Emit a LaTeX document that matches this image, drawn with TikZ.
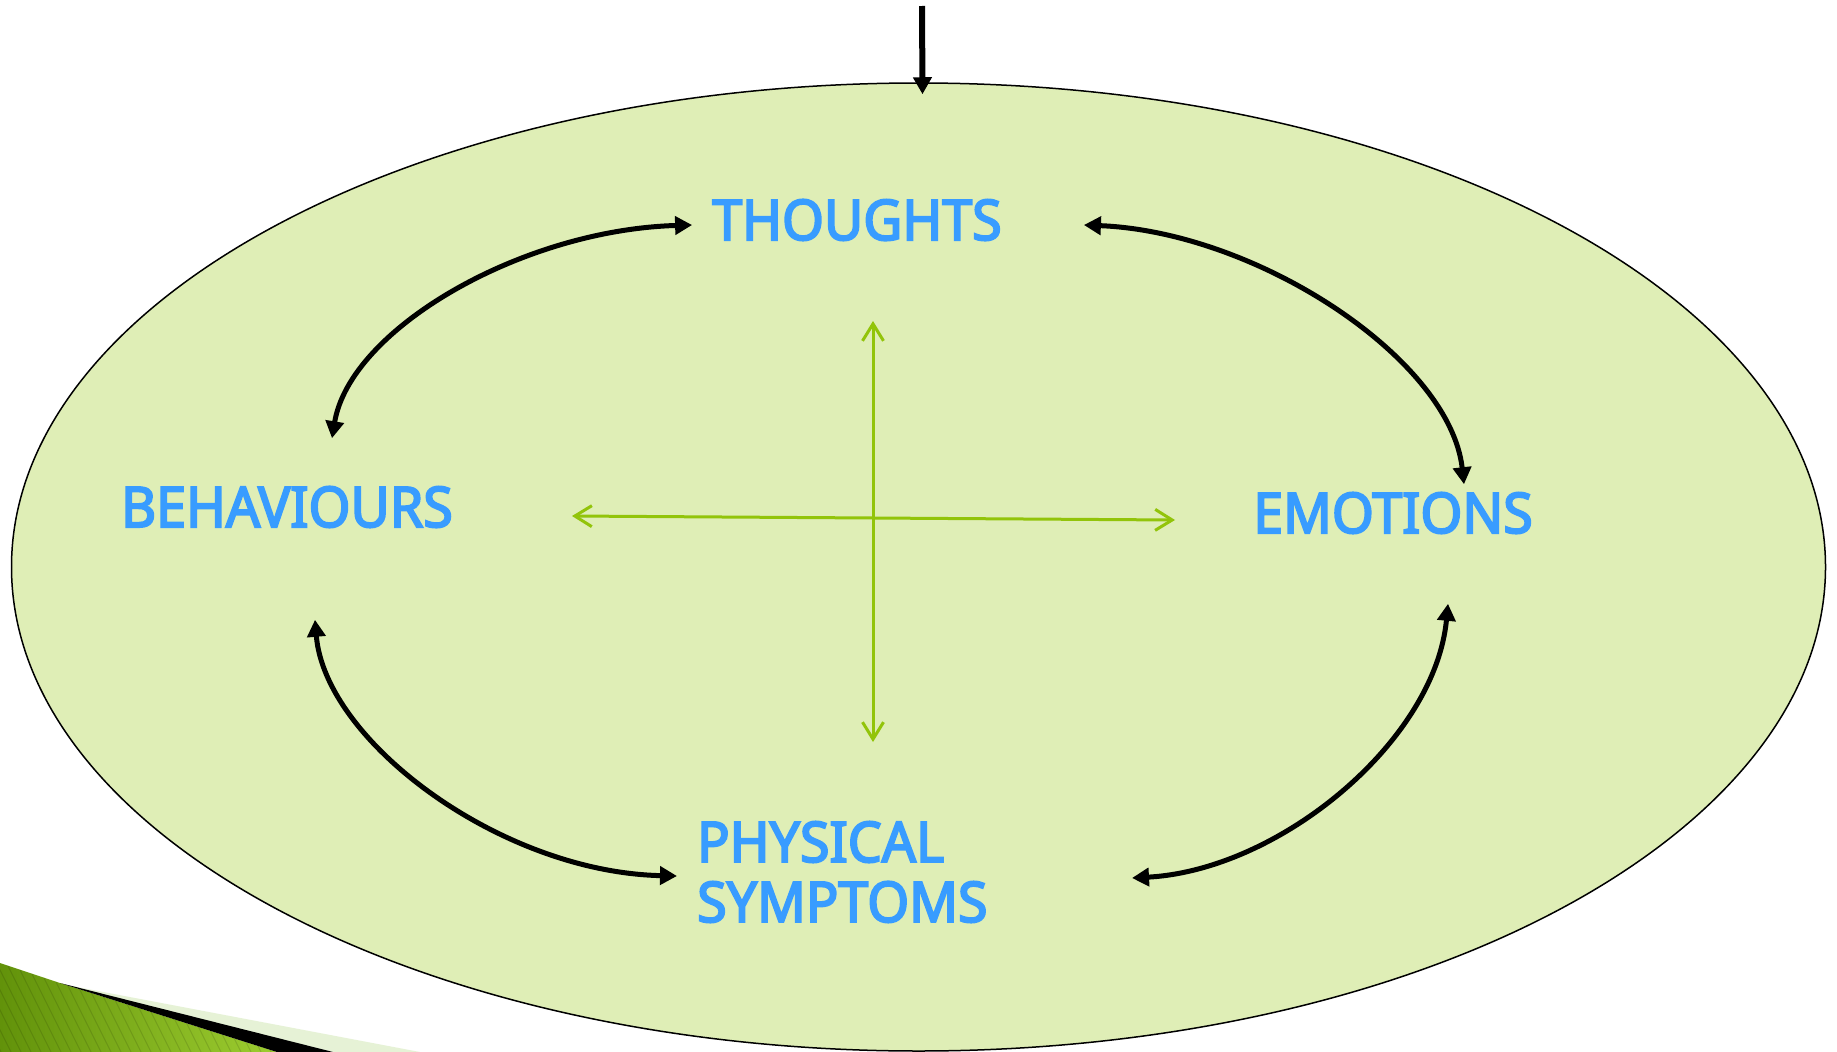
\documentclass[tikz,border=0pt]{standalone}
\usepackage{fontspec}
\setmainfont{Noto Sans}
\newfontfamily\factorfont{Noto Sans}[FakeBold=3.5,FakeStretch=0.96]
\usetikzlibrary{arrows.meta,shapes.geometric,positioning}
\definecolor{bubblefill}{RGB}{223,238,182}
\definecolor{labelblue}{RGB}{56,156,255}
\definecolor{crossgreen}{RGB}{146,196,10}
\definecolor{swooshdark}{RGB}{98,146,10}
\definecolor{swooshlight}{RGB}{160,208,50}
\definecolor{swooshpale}{RGB}{230,242,214}
\tikzset{
	bubble/.style={
		ellipse,
		draw=black, line width=1.5pt,
		fill=bubblefill,
		minimum width=1814pt,
		minimum height=968pt,
		inner sep=0pt,
	},
	factor/.style={
		text=labelblue,
		font=\factorfont\fontsize{56}{60}\selectfont,
		inner sep=0pt,
	},
	cyclearrow/.style={
		{Triangle[length=17pt,width=18pt]}-{Triangle[length=17pt,width=18pt]},
		draw=black, line width=5pt,
	},
	crossarrow/.style={
		{Straight Barb[length=17pt,width=21pt]}-{Straight Barb[length=17pt,width=21pt]},
		draw=crossgreen, line width=3pt,
	},
	toparrow/.style={
		-{Triangle[length=17pt,width=18pt]},
		draw=black, line width=6pt,
	},
}
\begin{document}
\begin{tikzpicture}[x=1pt,y=-1pt]

	% page frame, same size as the slide
	\clip (0,0) rectangle (1837,1052);
	\fill[white] (0,0) rectangle (1837,1052);

	% swoosh in the lower left corner
	\fill[swooshpale] (40,980) -- (420,1052) -- (333,1052) -- cycle;
	\begin{scope}
		\clip (0,963) -- (60,983) -- (277,1052) -- (0,1052) -- cycle;
		\shade[left color=swooshdark, right color=swooshlight] (0,950) rectangle (290,1052);
		\foreach \s in {-120,-110,...,290}
			\draw[black, opacity=0.12, line width=1pt] (\s,950) -- ++(55,110);
	\end{scope}
	\fill[black] (60,983) -- (333,1052) -- (277,1052) -- cycle;

	% the big bubble
	\node[bubble] (ring) at (918.5,567) {};

	% the four factors
	\node[factor] (THOUGHTS) at (857,220) {THOUGHTS};
	\node[factor] (BEHAVIOURS) at (287,507) {BEHAVIOURS};
	\node[factor] (EMOTIONS) at (1393,513) {EMOTIONS};
	\node[factor, align=left, anchor=west] (PHYSICAL) at (697,872) {PHYSICAL\\SYMPTOMS};

	% arrow coming in from the top
	\coordinate (entry) at (922,6);
	\draw[toparrow] (entry) -- ([shift={(4,12)}]ring.north);

	% black arcs linking the factors
	\draw[cyclearrow]
		([shift={(-20,5)}]THOUGHTS.west) .. controls +(-171,5) and +(18,-109) .. ([shift={(45,-48)}]BEHAVIOURS.north);
	\draw[cyclearrow]
		([shift={(82,5)}]THOUGHTS.east) .. controls +(174,7) and +(-14,-125) .. ([shift={(71,-8)}]EMOTIONS.north);
	\draw[cyclearrow]
		([shift={(55,70)}]EMOTIONS.south) .. controls +(-13,137) and +(148,-8) .. ([shift={(435,6)}]PHYSICAL.west);
	\draw[cyclearrow]
		([shift={(28,92)}]BEHAVIOURS.south) .. controls +(10,121) and +(-177,-4) .. ([shift={(-20,4)}]PHYSICAL.west);

	% green cross in the middle
	\coordinate (hub) at (873,518);
	\draw[crossarrow] ([shift={(0,-197)}]hub) -- ([shift={(0,224)}]hub);
	\draw[crossarrow] ([shift={(-301,-2)}]hub) -- ([shift={(302,2)}]hub);

\end{tikzpicture}
\end{document}
